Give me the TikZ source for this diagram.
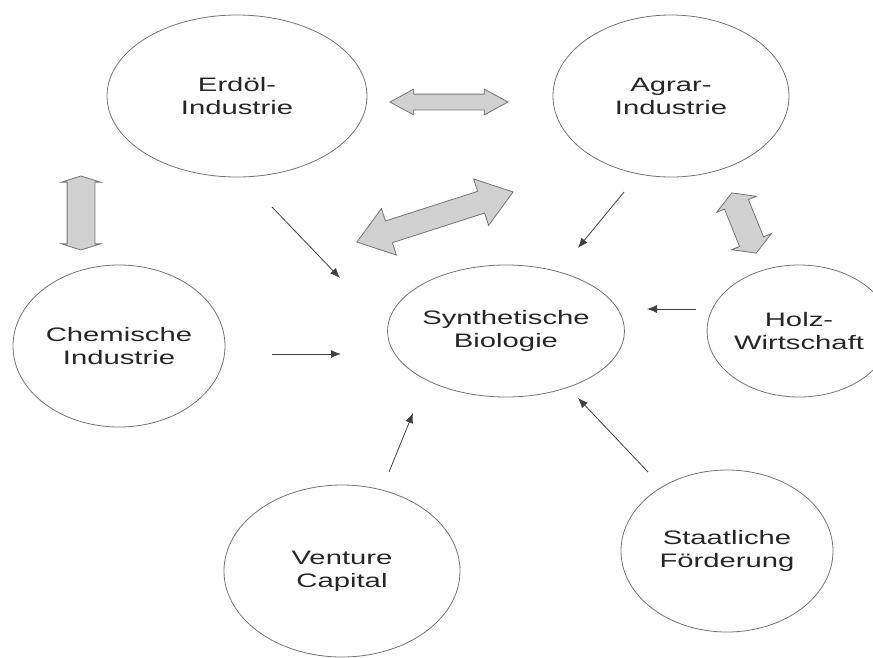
\documentclass[tikz,border=0pt]{standalone}
\usepackage{fontspec}
\newfontfamily\lblfont[FakeStretch=1.5]{Liberation Sans}
\usepackage{tikz}
\usetikzlibrary{
	arrows.meta,shapes.geometric,shapes.arrows,positioning,calc
}
\tikzset{
	auto,
	sector/.style={
		ellipse, inner sep=0pt, align=center, draw=black!55, line width=0.8pt,
		text=black!85, font=\lblfont\fontsize{19.5}{23}\selectfont
	},
	%
	blockarrow/.style={
		double arrow, draw=black!55, fill=black!18, line width=0.8pt,
		inner xsep=0pt, minimum width=0pt
	},
	%
	flow/.style={
		-{Latex[length=10pt,width=8pt]}, line width=0.8pt, draw=black!75
	}
}

\begin{document}
\begin{tikzpicture}[x=1pt,y=-1pt]
    \useasboundingbox (0,0) rectangle (873,657);
    \node(oel)[sector, minimum width=260, minimum height=162] at (237,96) {Erdöl-\\Industrie};
    \node(agrar)[sector, minimum width=236, minimum height=162] at (671,96) {Agrar-\\Industrie};
    \node(chem)[sector, minimum width=212, minimum height=162] at (119,346) {Chemische\\Industrie};
    \node(synbio)[sector, minimum width=236, minimum height=132] at (506,331) {Synthetische\\Biologie};
    \node(holz)[sector, minimum width=164, minimum height=132] at (799,331) {Holz-\\Wirtschaft};
    \node(venture)[sector, minimum width=236, minimum height=172] at (342,571) {Venture\\Capital};
    \node(staat)[sector, minimum width=212, minimum height=162] at (727,551) {Staatliche\\Förderung};
    % block arrows
    \node(oelagrar)[blockarrow, minimum height=118, inner ysep=7.5, double arrow head extend=5, double arrow tip angle=57] at (449,102) {};
    \node(oelchem)[blockarrow, minimum height=74, inner ysep=13.5, double arrow head extend=5.5, double arrow tip angle=145, rotate=90] at (81,213) {};
    \node(agrarsyn)[blockarrow, minimum height=164, inner ysep=11, double arrow head extend=13, double arrow tip angle=72, rotate=17.8] at (435,217) {};
    \node(agrarholz)[blockarrow, minimum height=65, inner ysep=12.5, double arrow head extend=8.5, double arrow tip angle=120, rotate=-68] at (744,223) {};
    % thin arrows
    \coordinate (oel-out) at (272,207);   \coordinate (oel-in) at (340,278);
    \coordinate (agrar-out) at (624,192); \coordinate (agrar-in) at (578,248);
    \coordinate (chem-out) at (272,354);  \coordinate (chem-in) at (341,354);
    \coordinate (holz-out) at (696,309);  \coordinate (holz-in) at (647,309);
    \coordinate (venture-out) at (389,472); \coordinate (venture-in) at (413,413);
    \coordinate (staat-out) at (648,472); \coordinate (staat-in) at (578,398);
    \foreach \src in {oel,agrar,chem,holz,venture,staat}
        \draw[flow] (\src-out) -- (\src-in);
\end{tikzpicture}
\end{document}
